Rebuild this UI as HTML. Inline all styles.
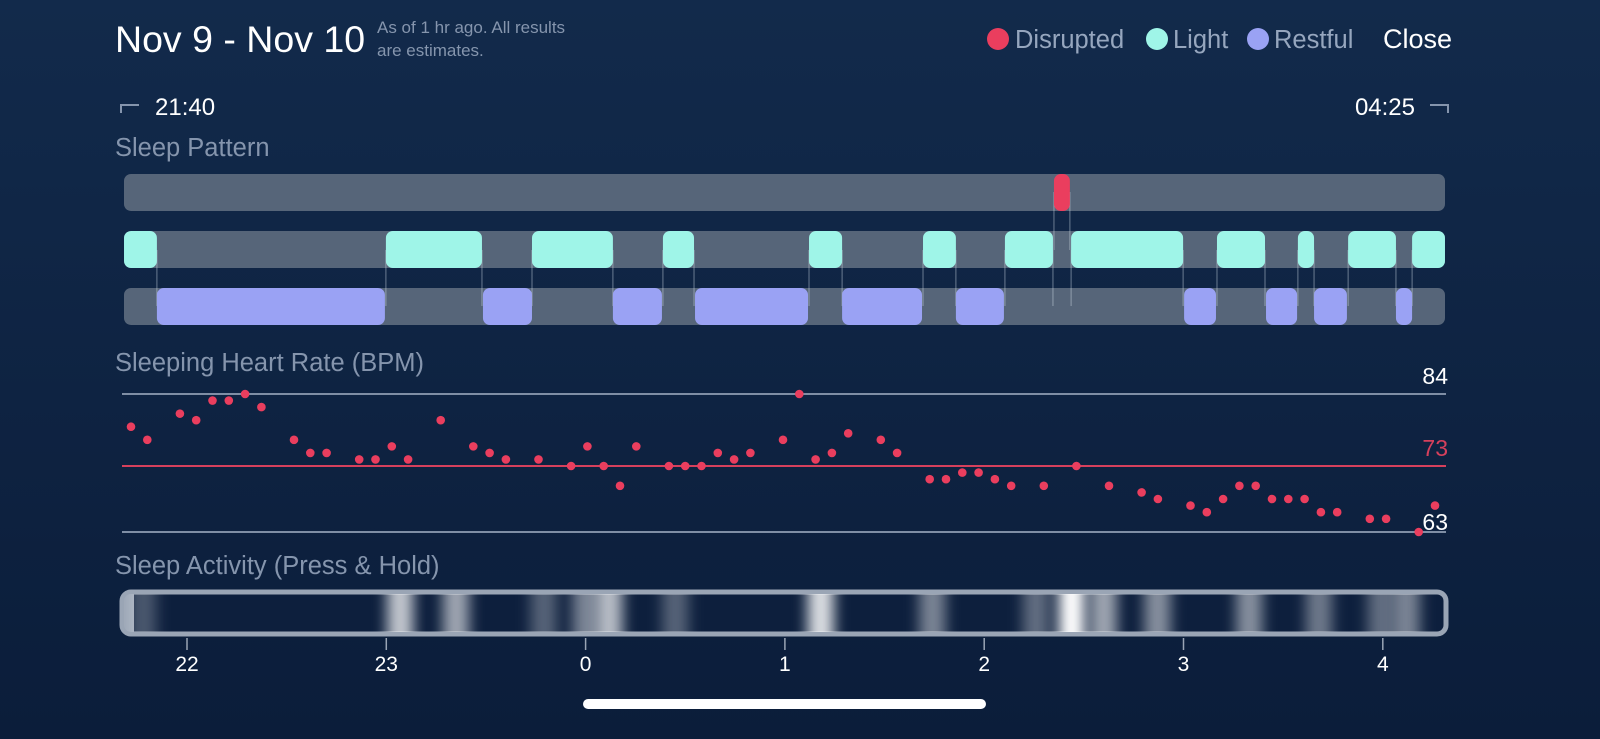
<!DOCTYPE html>
<html><head><meta charset="utf-8"><style>
html,body{margin:0;padding:0;width:1600px;height:739px;overflow:hidden;background:linear-gradient(#122a4b,#0b1d3a);font-family:"Liberation Sans",sans-serif;}
svg{display:block}
text{font-family:"Liberation Sans",sans-serif}
</style></head><body>
<svg id="chart" width="1600" height="739">
<defs><filter id="blur" x="-80%" y="0" width="260%" height="100%"><feGaussianBlur stdDeviation="7 0"/></filter>
<clipPath id="actClip"><rect x="124" y="594" width="1320" height="38" rx="7"/></clipPath></defs>
<text x="115" y="52" font-size="37.5" fill="#fff">Nov 9 - Nov 10</text>
<text x="377" y="33" font-size="17" fill="#8595ad">As of 1 hr ago. All results</text>
<text x="377" y="56" font-size="17" fill="#8595ad">are estimates.</text>
<g>
<circle cx="998" cy="39" r="11" fill="#ea3e5e"/>
<text x="1015" y="48" font-size="25.5" fill="#96a6be">Disrupted</text>
<circle cx="1157" cy="39" r="11" fill="#9ff5e8"/>
<text x="1173" y="48" font-size="25.5" fill="#96a6be">Light</text>
<circle cx="1258" cy="39" r="11" fill="#9aa2f4"/>
<text x="1274" y="48" font-size="25.5" fill="#96a6be">Restful</text>
</g>
<text x="1383" y="48" font-size="27" fill="#fff">Close</text>
<path d="M121 113 V105 H139" stroke="#8595ad" stroke-width="2" fill="none"/>
<text x="155" y="115" font-size="24" fill="#fff">21:40</text>
<text x="1415" y="115" font-size="24" fill="#fff" text-anchor="end">04:25</text>
<path d="M1430 105 H1448 V113" stroke="#8595ad" stroke-width="2" fill="none"/>
<text x="115" y="156" font-size="25.5" fill="#8595ad">Sleep Pattern</text>
<text x="115" y="371" font-size="25.5" fill="#8595ad">Sleeping Heart Rate (BPM)</text>
<text x="115" y="574" font-size="25.5" fill="#8595ad">Sleep Activity (Press &amp; Hold)</text>
<g id="pattern"></g>
<g id="hr"></g>
<g id="act"></g>
<rect x="583" y="699" width="403" height="10" rx="5" fill="#fff"/>
</svg>
<script>
// hours relative to 22:00
const lightStart=[-0.316,0.998,1.731,2.388,3.121,3.693,4.104,4.436,5.168,5.574,5.826,6.147];
const lightEnd=[-0.151,1.480,2.137,2.544,3.287,3.858,4.345,4.998,5.409,5.655,6.066,6.312];
const restStart=[-0.151,1.485,2.137,2.549,3.287,3.858,5.003,5.414,5.655,6.066];
const restEnd=[0.993,1.731,2.383,3.116,3.688,4.099,5.163,5.570,5.820,6.147];
const disStart=[4.350];
const disEnd=[4.430];
// heart rate: sample index (≈4.9 min apart from 21:43) and BPM
const hrIndex=[0,1,3,4,5,6,7,8,10,11,12,14,15,16,17,19,21,22,23,25,27,28,29,30,31,33,34,35,36,37,38,40,41,42,43,44,46,47,49,50,51,52,53,54,56,58,60,62,63,65,66,67,68,69,70,71,72,73,74,76,77,79,80];
const hrValues=[79,77,81,80,83,83,84,82,77,75,75,74,74,76,74,80,76,75,74,74,73,76,73,70,76,73,73,73,75,74,75,77,84,74,75,78,77,75,71,71,72,72,71,70,70,73,70,69,68,67,66,68,70,70,68,68,68,66,66,65,65,63,67];
const hrRefValues=[84,73,63];
const hrRefLabels=["84","73","63"];
// activity bands: hour position and intensity 0..1
const actHours=[-0.22,1.07,1.35,1.79,2.00,2.12,2.45,3.18,3.74,4.26,4.44,4.60,4.87,5.33,5.68,5.99,6.12];
const actLevels=[0.25,0.75,0.6,0.3,0.45,0.7,0.3,0.85,0.45,0.35,1.0,0.6,0.5,0.5,0.4,0.35,0.45];
const tickHours=[0,1,2,3,4,5,6];
const tickLabels=["22","23","0","1","2","3","4"];

const NS="http://www.w3.org/2000/svg";
const x=h=>187+199.3*h;
const idxHour=i=>(131-187)/199.3+i*16.3/199.3;
const y=v=>v>=73?466-(v-73)*6.545:466+(73-v)*6.6;
function mk(tag,attrs,parent){const e=document.createElementNS(NS,tag);for(const k in attrs)e.setAttribute(k,attrs[k]);parent.appendChild(e);return e;}

const P=document.getElementById('pattern');
const rows=[174,231,288];
rows.forEach((ry,i)=>{const r=mk('rect',{x:124,y:ry,width:1321,height:37,rx:7,fill:'#566579'},P);

});
lightStart.concat(lightEnd).forEach(h=>{if(h>-0.3&&h<6.3){const l=mk('line',{x1:x(h),x2:x(h),y1:250,y2:306,stroke:'rgba(220,230,240,0.45)','stroke-width':1},P);

}});
disStart.concat(disEnd).forEach(h=>{const l=mk('line',{x1:x(h),x2:x(h),y1:192,y2:250,stroke:'rgba(220,230,240,0.45)','stroke-width':1},P);

});
function segs(s,e,ry,col,name){s.forEach((h,i)=>{const r=mk('rect',{x:x(h),y:ry,width:Math.max(x(e[i])-x(h),4),height:37,rx:7,fill:col},P);

});}
segs(lightStart,lightEnd,231,'#9ff5e8','light-segment');
segs(restStart,restEnd,288,'#9aa2f4','restful-segment');
segs(disStart,disEnd,174,'#ea3e5e','disrupted-segment');

const H=document.getElementById('hr');
hrRefValues.forEach((v,i)=>{const l=mk('line',{x1:122,x2:1446,y1:y(v),y2:y(v),stroke:i==1?'#d6405c':'#7f8ea5','stroke-width':2},H);


const t=mk('text',{x:1448,y:y(v)-10+(i==2?8:0),'font-size':23,'text-anchor':'end',fill:i==1?'#d6405c':'#fff'},H);t.textContent=hrRefLabels[i];

});
hrIndex.forEach((ix,i)=>{const c=mk('circle',{cx:x(idxHour(ix)),cy:y(hrValues[i]),r:4.3,fill:'#ea3e5e'},H);

});

const A=document.getElementById('act');
const bg=mk('rect',{x:122,y:592,width:1324,height:42,rx:9,fill:'#0d1f3d',stroke:'#9aa5b5','stroke-width':5},A);


const g=mk('g',{'clip-path':'url(#actClip)'},A);
const cap=mk('rect',{x:118,y:594,width:16,height:38,fill:'#9aa5b5'},g);


actHours.forEach((h,i)=>{const b=mk('rect',{x:x(h)-13,y:594,width:26,height:38,fill:'#fff','fill-opacity':actLevels[i],filter:'url(#blur)'},g);

});
tickHours.forEach((h,i)=>{const l=mk('line',{x1:x(h),x2:x(h),y1:638,y2:650,stroke:'#9aa5b5','stroke-width':1.5},A);


const t=mk('text',{x:x(h),y:671,'font-size':21,'text-anchor':'middle',fill:'#fff'},A);t.textContent=tickLabels[i];

});
</script>
</body></html>
